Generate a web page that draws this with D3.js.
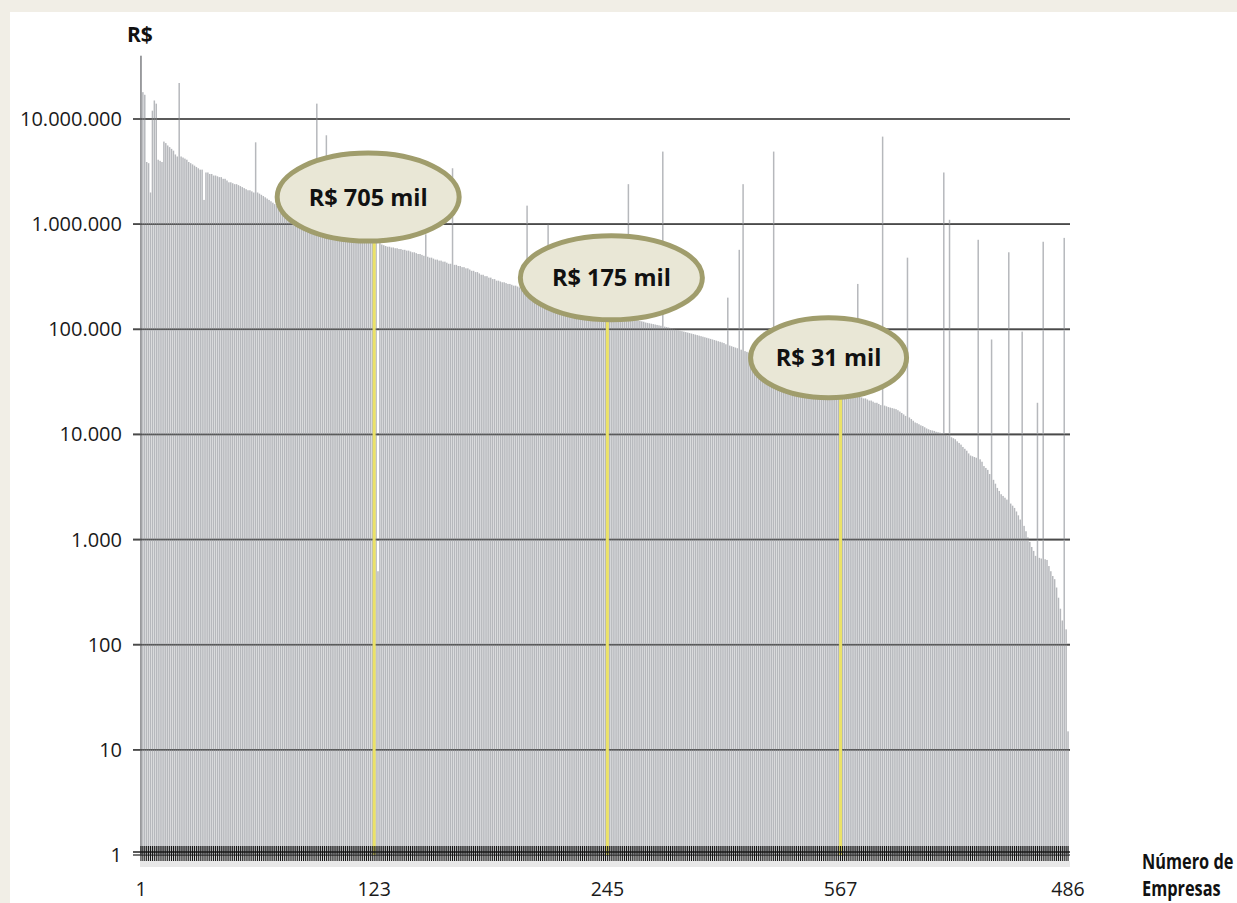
<!DOCTYPE html>
<html>
<head>
<meta charset="utf-8">
<script src="https://cdn.jsdelivr.net/npm/d3@7"></script>
<style>
  html, body { margin: 0; padding: 0; background: #f1eee6; }
  svg { display: block; }
</style>
</head>
<body>
<svg id="chart" width="1237" height="903"></svg>
<script>
// Faturamento por empresa (R$), empresas ordenadas pelo valor
const values = [
  4.0e7, 1.8e7, 1.7e7, 3.9e6, 3.8e6, 2.0e6, 1.2e7, 1.5e7, 1.4e7, 4.1e6,
  4.0e6, 3.9e6, 6.1e6, 5.9e6, 5.6e6, 5.4e6, 5.2e6, 5.0e6, 4.6e6, 4.4e6,
  2.2e7, 4.4e6, 4.3e6, 4.2e6, 4.1e6, 3.9e6, 3.8e6, 3.7e6, 3.6e6, 3.5e6,
  3.4e6, 3.3e6, 3.3e6, 1.7e6, 3.1e6, 3.1e6, 3.0e6, 3.0e6, 2.9e6, 2.9e6,
  2.85e6, 2.8e6, 2.8e6, 2.7e6, 2.7e6, 2.6e6, 2.5e6, 2.5e6, 2.45e6, 2.4e6,
  2.4e6, 2.35e6, 2.3e6, 2.25e6, 2.2e6, 2.15e6, 2.1e6, 2.1e6, 2.05e6, 2.0e6,
  6.0e6, 2.0e6, 1.95e6, 1.9e6, 1.85e6, 1.8e6, 1.75e6, 1.7e6, 1.65e6, 1.6e6,
  1.55e6, 1.5e6, 1.5e6, 1.45e6, 1.42e6, 1.4e6, 1.38e6, 1.35e6, 1.32e6, 1.3e6,
  1.28e6, 1.25e6, 1.22e6, 1.2e6, 1.18e6, 1.15e6, 1.13e6, 1.1e6, 1.08e6, 1.06e6,
  1.05e6, 1.04e6, 1.4e7, 1.02e6, 1.0e6, 9.9e5, 9.8e5, 7.0e6, 9.6e5, 9.5e5,
  9.3e5, 9.2e5, 9.0e5, 8.9e5, 8.8e5, 8.6e5, 8.5e5, 8.3e5, 8.2e5, 8.1e5,
  8.0e5, 7.9e5, 7.8e5, 7.7e5, 7.6e5, 7.5e5, 7.4e5, 7.3e5, 7.2e5, 7.15e5,
  7.1e5, 7.08e5, 7.05e5, 6.9e5, 5.0e2, 6.6e5, 6.4e5, 6.3e5, 6.2e5, 6.1e5,
  6.1e5, 6.0e5, 6.0e5, 5.9e5, 5.9e5, 5.8e5, 5.8e5, 5.7e5, 5.7e5, 5.6e5,
  5.6e5, 5.5e5, 5.4e5, 5.4e5, 5.3e5, 5.2e5, 5.2e5, 5.1e5, 5.0e5, 8.0e5,
  4.9e5, 4.8e5, 4.8e5, 4.7e5, 4.6e5, 4.6e5, 4.5e5, 4.5e5, 4.4e5, 4.4e5,
  4.3e5, 4.2e5, 4.2e5, 3.4e6, 4.1e5, 4.1e5, 4.0e5, 4.0e5, 3.9e5, 3.9e5,
  3.8e5, 3.8e5, 3.7e5, 3.6e5, 3.6e5, 3.5e5, 3.5e5, 3.4e5, 3.3e5, 3.3e5,
  3.2e5, 3.2e5, 3.1e5, 3.1e5, 3.0e5, 3.0e5, 2.9e5, 2.9e5, 2.85e5, 2.8e5,
  2.8e5, 2.75e5, 2.7e5, 2.7e5, 2.65e5, 2.6e5, 2.6e5, 2.55e5, 2.5e5, 2.5e5,
  2.45e5, 2.45e5, 1.5e6, 2.4e5, 2.4e5, 2.35e5, 2.3e5, 2.3e5, 2.25e5, 2.25e5,
  2.2e5, 2.2e5, 2.15e5, 1.0e6, 2.1e5, 2.1e5, 2.05e5, 2.0e5, 2.0e5, 1.98e5,
  1.95e5, 1.93e5, 1.9e5, 1.88e5, 1.86e5, 1.85e5, 1.84e5, 1.83e5, 1.82e5, 1.81e5,
  1.8e5, 1.8e5, 1.79e5, 1.79e5, 1.78e5, 1.78e5, 1.77e5, 1.77e5, 1.76e5, 1.76e5,
  1.76e5, 1.75e5, 1.75e5, 1.75e5, 1.75e5, 1.55e5, 1.5e5, 1.45e5, 1.43e5, 1.4e5,
  1.38e5, 1.36e5, 1.34e5, 1.32e5, 1.3e5, 2.4e6, 1.28e5, 1.26e5, 1.25e5, 1.24e5,
  1.22e5, 1.2e5, 1.19e5, 1.18e5, 1.16e5, 1.15e5, 1.14e5, 1.13e5, 1.12e5, 1.11e5,
  1.1e5, 1.09e5, 1.08e5, 4.9e6, 1.06e5, 1.05e5, 1.04e5, 1.03e5, 1.02e5, 1.0e5,
  9.9e4, 9.8e4, 9.7e4, 9.6e4, 9.5e4, 9.4e4, 9.3e4, 9.2e4, 9.1e4, 9.0e4,
  8.9e4, 8.8e4, 8.7e4, 8.6e4, 8.5e4, 8.4e4, 8.3e4, 8.2e4, 8.1e4, 8.0e4,
  7.9e4, 7.8e4, 7.7e4, 7.6e4, 7.5e4, 7.4e4, 7.2e4, 2.0e5, 7.0e4, 6.9e4,
  6.8e4, 6.7e4, 6.6e4, 5.7e5, 6.4e4, 2.4e6, 6.2e4, 6.1e4, 6.0e4, 5.9e4,
  5.8e4, 5.7e4, 5.6e4, 5.5e4, 5.4e4, 5.3e4, 5.2e4, 5.1e4, 5.0e4, 4.9e4,
  4.8e4, 4.9e6, 4.7e4, 4.6e4, 4.5e4, 4.4e4, 4.3e4, 4.2e4, 4.1e4, 4.0e4,
  3.95e4, 3.9e4, 3.85e4, 3.8e4, 3.75e4, 3.7e4, 3.65e4, 3.6e4, 3.55e4, 3.5e4,
  3.45e4, 3.4e4, 3.35e4, 3.3e4, 3.28e4, 3.26e4, 3.24e4, 3.22e4, 3.2e4, 3.18e4,
  3.16e4, 3.14e4, 3.13e4, 3.12e4, 3.11e4, 3.1e4, 3.1e4, 2.9e4, 2.8e4, 2.7e4,
  2.6e4, 2.5e4, 2.45e4, 2.4e4, 2.35e4, 2.7e5, 2.3e4, 2.25e4, 2.2e4, 2.2e4,
  2.15e4, 2.1e4, 2.1e4, 2.05e4, 2.0e4, 2.0e4, 1.95e4, 1.9e4, 6.8e6, 1.88e4,
  1.85e4, 1.82e4, 1.8e4, 1.78e4, 1.76e4, 1.74e4, 1.7e4, 1.65e4, 1.6e4, 1.55e4,
  1.5e4, 4.8e5, 1.45e4, 1.4e4, 1.35e4, 1.3e4, 1.28e4, 1.25e4, 1.22e4, 1.2e4,
  1.17e4, 1.14e4, 1.12e4, 1.1e4, 1.09e4, 1.08e4, 1.06e4, 1.05e4, 1.04e4, 1.03e4,
  3.1e6, 1.0e4, 9.7e3, 1.1e6, 9.4e3, 9.2e3, 9.0e3, 8.6e3, 8.3e3, 8.0e3,
  7.6e3, 7.3e3, 7.0e3, 6.6e3, 6.3e3, 6.2e3, 6.1e3, 6.0e3, 7.1e5, 5.8e3,
  5.5e3, 5.0e3, 4.8e3, 4.6e3, 4.2e3, 8.0e4, 3.7e3, 3.4e3, 3.1e3, 2.9e3,
  2.7e3, 2.6e3, 2.5e3, 2.4e3, 5.4e5, 2.2e3, 2.1e3, 2.0e3, 1.85e3, 1.7e3,
  1.55e3, 9.5e4, 1.35e3, 1.2e3, 1.05e3, 9.5e2, 8.5e2, 7.8e2, 7.0e2, 2.0e4,
  6.7e2, 6.6e2, 6.8e5, 6.5e2, 6.4e2, 5.6e2, 5.0e2, 4.5e2, 4.2e2, 3.5e2,
  2.8e2, 2.2e2, 1.7e2, 7.4e5, 1.4e2, 1.5e1
];

// Eixo Y (escala logarítmica)
const yTickValues = [1, 10, 100, 1e3, 1e4, 1e5, 1e6, 1e7];
const yTickLabels = ["1", "10", "100", "1.000", "10.000", "100.000", "1.000.000", "10.000.000"];

// Eixo X: posições rotuladas
const xTickIndex = [0, 122, 244, 366, 485];
const xTickLabels = ["1", "123", "245", "567", "486"];

// Destaques
const highlightIndex = [122, 244, 366];
const highlightLabels = ["R$ 705 mil", "R$ 175 mil", "R$ 31 mil"];

const svg = d3.select("#chart");
const W = 1237, H = 903;

// painel branco
svg.append("rect").attr("x", 10).attr("y", 12).attr("width", W - 10).attr("height", H - 12).attr("fill", "#ffffff");

const x = d3.scaleBand().domain(d3.range(values.length)).range([140, 1069]).paddingInner(0);
const y = d3.scaleLog().domain([1, 1e7]).range([855, 119]);
const bw = x.bandwidth();
const cx = i => x(i) + bw / 2;

// linhas de grade
svg.append("g").selectAll("line").data(yTickValues).join("line")
  .attr("x1", 133).attr("x2", 1070)
  .attr("y1", d => y(d)).attr("y2", d => y(d))
  .attr("stroke", "#4a4a4a").attr("stroke-width", 1.7);

// barras
svg.append("g").selectAll("rect").data(values).join("rect")
  .attr("x", (d, i) => cx(i) - bw * 0.39)
  .attr("width", bw * 0.78)
  .attr("y", d => y(d))
  .attr("height", d => y(1) - y(d))
  .attr("fill", (d, i) => i === 0 ? "#7d7f83" : "#b6b8bc");

// grade por cima das barras
svg.append("g").selectAll("line").data(yTickValues.slice(1)).join("line")
  .attr("x1", 133).attr("x2", 1070)
  .attr("y1", d => y(d)).attr("y2", d => y(d))
  .attr("stroke", "#4a4a4a").attr("stroke-opacity", 0.8).attr("stroke-width", 1.5);

// barras destacadas
svg.append("g").selectAll("line").data(highlightIndex).join("line")
  .attr("x1", i => cx(i)).attr("x2", i => cx(i))
  .attr("y1", i => y(values[i])).attr("y2", y(1))
  .attr("stroke", "#ebe267").attr("stroke-width", 3);

// eixo inferior (marcas por empresa)
const base = y(1);
svg.append("rect").attr("x", 140).attr("y", base + 6).attr("width", 930).attr("height", 6)
  .attr("fill", "#e2e2e2").attr("opacity", 0.8);
svg.append("line").attr("x1", 133).attr("x2", 1070).attr("y1", base - 3).attr("y2", base - 3)
  .attr("stroke", "#222").attr("stroke-width", 1.6);
svg.append("g").selectAll("line").data(d3.range(values.length)).join("line")
  .attr("x1", i => cx(i)).attr("x2", i => cx(i))
  .attr("y1", base - 9).attr("y2", base + 6)
  .attr("stroke", "#151515").attr("stroke-width", 1.1);

// rótulos do eixo Y
svg.append("g").selectAll("text").data(yTickValues).join("text")
  .attr("x", 122).attr("y", d => y(d) + 7)
  .attr("text-anchor", "end")
  .attr("font-family", "Open Sans, sans-serif").attr("font-size", 20)
  .attr("fill", "#1a1a1a")
  .text((d, i) => yTickLabels[i]);

svg.append("text").attr("x", 127).attr("y", 42)
  .attr("font-family", "Open Sans, sans-serif").attr("font-weight", 700).attr("font-size", 21)
  .attr("fill", "#111").text("R$");

// rótulos do eixo X
svg.append("g").selectAll("text").data(xTickIndex).join("text")
  .attr("x", i => cx(i)).attr("y", 896)
  .attr("text-anchor", "middle")
  .attr("font-family", "Open Sans, sans-serif").attr("font-size", 19.5)
  .attr("fill", "#1a1a1a")
  .text((d, k) => xTickLabels[k]);

// título do eixo X (fonte condensada)
const xTitle = svg.append("g").attr("transform", "translate(1142,0) scale(0.76,1)")
  .append("text")
  .attr("font-family", "Open Sans, sans-serif").attr("font-weight", 700).attr("font-size", 21.5)
  .attr("fill", "#111");
xTitle.append("tspan").attr("x", 0).attr("y", 869).text("Número de");
xTitle.append("tspan").attr("x", 0).attr("y", 896).text("Empresas");

// balões
const calloutDx = [-6, 4, -12];
const calloutDy = [43, 26, 25];
const calloutRx = [91, 91, 78];
const calloutRy = [44, 42, 40];
const callouts = svg.append("g").selectAll("g").data(highlightIndex).join("g")
  .attr("transform", (i, k) => `translate(${cx(i) + calloutDx[k]},${y(values[i]) - calloutDy[k]})`);
callouts.append("ellipse")
  .attr("rx", (d, k) => calloutRx[k]).attr("ry", (d, k) => calloutRy[k])
  .attr("fill", "#e9e7d6").attr("stroke", "#a09d6c").attr("stroke-width", 5);
callouts.append("text")
  .attr("text-anchor", "middle").attr("y", 8.5)
  .attr("font-family", "Open Sans, sans-serif").attr("font-weight", 700).attr("font-size", 23.5)
  .attr("fill", "#111")
  .text((d, k) => highlightLabels[k]);
</script>
</body>
</html>
